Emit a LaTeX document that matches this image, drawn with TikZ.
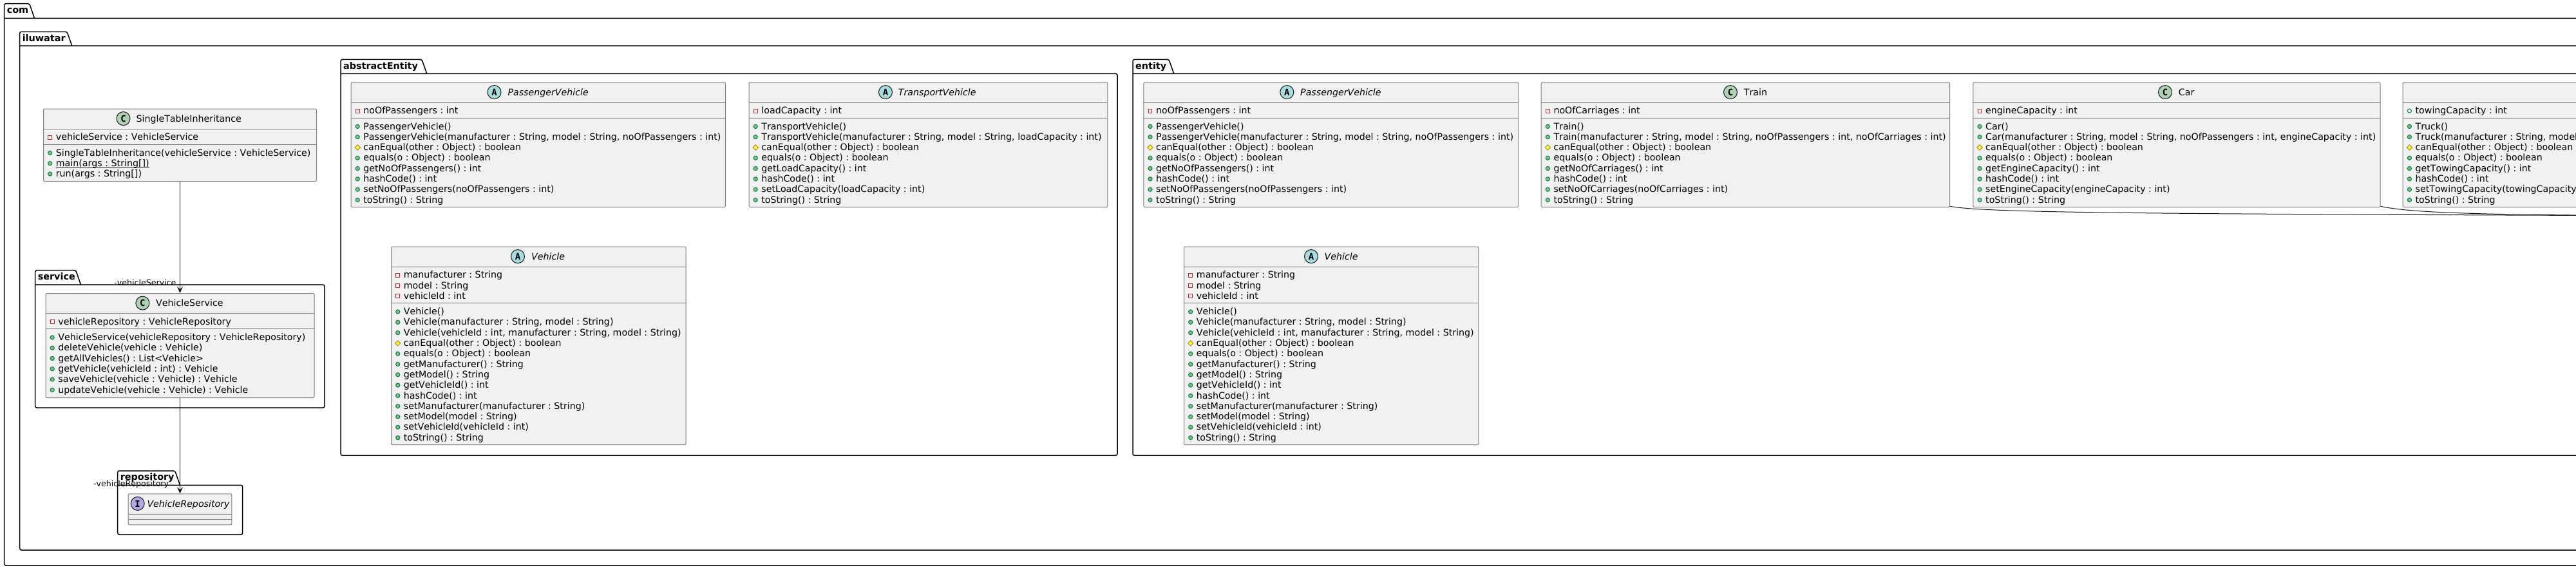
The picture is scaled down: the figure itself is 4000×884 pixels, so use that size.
\documentclass[tikz,border=0pt]{standalone}
\usepackage{fontspec}
\setmainfont[Kerning=Off]{DejaVu Sans}
\setmonofont{DejaVu Sans Mono}
\usepackage{tikz}
\usetikzlibrary{arrows.meta,shapes.geometric}

\definecolor{boxfill}{HTML}{F1F1F1}
\definecolor{boxline}{HTML}{7F7F7F}
\definecolor{inkline}{HTML}{181818}

\frenchspacing

\tikzset{
  pkg/.style={draw=black,line width=1.5pt,rounded corners=2.5pt,fill=white},
  pkgtitle/.style={anchor=base west,inner sep=0pt,font=\fontsize{14.4}{16}\selectfont\bfseries},
  classbox/.style={draw=boxline,line width=1pt,fill=boxfill,rounded corners=2pt,inner sep=0pt,anchor=north west},
  classline/.style={draw=boxline,line width=1pt},
  row/.style={anchor=base west,inner sep=0pt,font=\fontsize{14.2}{16}\selectfont},
  icon/.style={circle,draw=inkline,line width=1pt,minimum size=21pt,inner sep=0pt,
    font=\fontsize{14}{14}\selectfont\ttfamily\bfseries},
  iconC/.style={icon,fill={rgb,255:red,173;green,209;blue,178}},
  iconA/.style={icon,fill={rgb,255:red,169;green,220;blue,223}},
  iconI/.style={icon,fill={rgb,255:red,180;green,167;blue,229}},
  pub/.style={circle,draw={rgb,255:red,3;green,128;blue,72},fill={rgb,255:red,132;green,190;blue,132},
    line width=1pt,minimum size=6.2pt,inner sep=0pt},
  pubfield/.style={circle,draw={rgb,255:red,3;green,128;blue,72},fill=boxfill,
    line width=1pt,minimum size=6.2pt,inner sep=0pt},
  priv/.style={rectangle,draw={rgb,255:red,200;green,41;blue,48},fill=boxfill,
    line width=1pt,minimum size=5.8pt,inner sep=0pt},
  prot/.style={diamond,aspect=1,draw={rgb,255:red,179;green,141;blue,34},fill={rgb,255:red,255;green,255;blue,68},
    line width=1pt,minimum size=8.6pt,inner sep=0pt},
  assoc/.style={draw=inkline,line width=1pt,-{Stealth[length=10pt,width=9pt,inset=4pt]}},
  rolelabel/.style={anchor=base east,inner sep=0pt,font=\fontsize{12.6}{14}\selectfont},
  inherit/.style={draw=inkline,line width=1pt}
}

\newcommand{\staticrow}[1]{\sbox0{#1}\rlap{\rule[-1.8pt]{\wd0}{0.9pt}}\usebox0}

% name, left, right, tab top, frame top, bottom, tab right, title
\newcommand{\umlpackage}[8]{
  \draw[pkg] (#2,#5) -- (#3,#5) -- (#3,#6) -- (#2,#6) -- (#2,#4) -- (#7,#4) -- ({#7+7.8},#5);
  \node[pkgtitle] (#1) at ({#2+3.9},{#4+14.7}) {#8};
}

% name, left, right, top, bottom, icon x, title x, letter, title
\newcommand{\umlclass}[9]{
  \def\clsname{#1}\def\clsleft{#2}\def\clsright{#3}\def\clstop{#4}
  \pgfmathsetmacro\clswidth{#3-(#2)}
  \pgfmathsetmacro\clsheight{#5-(#4)}
  \node[classbox,minimum width=\clswidth pt,minimum height=\clsheight pt] (#1) at (#2,#4) {};
  \draw[classline] (#2,{#4+31.8}) -- (#3,{#4+31.8});
  \node[icon#8] (#1-icon) at (#6,{#4+15.6}) {#8};
  \node[row] (#1-title) at (#7,{#4+20.8}) {#9};
}

% number of attributes, attributes, methods
\newcommand{\umlrows}[3]{
  \pgfmathsetmacro\clssep{\clstop+39.5+#1*16.3}
  \draw[classline] (\clsleft,\clssep) -- (\clsright,\clssep);
  \foreach \vis/\txt [count=\i] in {#2} {
    \pgfmathsetmacro\rowy{\clstop+49.2+(\i-1)*16.3}
    \node[\vis] (\clsname-av\i) at ({\clsleft+10.7},{\rowy-4.6}) {};
    \node[row] (\clsname-a\i) at ({\clsleft+19.7},\rowy) {\txt};
  }
  \foreach \vis/\txt [count=\i] in {#3} {
    \pgfmathsetmacro\rowy{\clssep+17.7+(\i-1)*16.3}
    \node[\vis] (\clsname-mv\i) at ({\clsleft+10.7},{\rowy-4.6}) {};
    \node[row] (\clsname-m\i) at ({\clsleft+19.7},\rowy) {\txt};
  }
}

\newcommand{\passengerrows}{
  \umlrows{1}{priv/{noOfPassengers : int}}{
    pub/{PassengerVehicle()},
    pub/{PassengerVehicle(manufacturer : String, model : String, noOfPassengers : int)},
    prot/{canEqual(other : Object) : boolean},
    pub/{equals(o : Object) : boolean},
    pub/{getNoOfPassengers() : int},
    pub/{hashCode() : int},
    pub/{setNoOfPassengers(noOfPassengers : int)},
    pub/{toString() : String}}
}

\newcommand{\vehiclerows}{
  \umlrows{3}{priv/{manufacturer : String},priv/{model : String},priv/{vehicleId : int}}{
    pub/{Vehicle()},
    pub/{Vehicle(manufacturer : String, model : String)},
    pub/{Vehicle(vehicleId : int, manufacturer : String, model : String)},
    prot/{canEqual(other : Object) : boolean},
    pub/{equals(o : Object) : boolean},
    pub/{getManufacturer() : String},
    pub/{getModel() : String},
    pub/{getVehicleId() : int},
    pub/{hashCode() : int},
    pub/{setManufacturer(manufacturer : String)},
    pub/{setModel(model : String)},
    pub/{setVehicleId(vehicleId : int)},
    pub/{toString() : String}}
}

\begin{document}
\begin{tikzpicture}[x=1pt,y=-1pt]
  \useasboundingbox (0,0) rectangle (4000,884);
  \clip (0,0) rectangle (4000,884);

  \umlpackage{com}{6.7}{4100}{5.7}{28.3}{878}{45.7}{com}
  \umlpackage{iluwatar}{30.7}{4100}{49.3}{71}{854}{104}{iluwatar}
  \umlpackage{abstractEntity}{529}{1735}{92.4}{114.4}{707}{655}{abstractEntity}
  \umlpackage{entity}{1759}{4100}{92.4}{114.4}{707}{1815}{entity}
  \umlpackage{service}{54.7}{504}{419.7}{442}{633}{117.7}{service}
  \umlpackage{repository}{182.7}{376.7}{731}{753.3}{830}{271.7}{repository}

  \umlclass{singletable}{67}{491}{168.5}{281}{191.5}{211.4}{C}{SingleTableInheritance}
  \umlrows{1}{priv/{vehicleService : VehicleService}}{
    pub/{SingleTableInheritance(vehicleService : VehicleService)},
    pub/{\staticrow{main(args : String[])}},
    pub/{run(args : String[])}}

  \umlclass{vehicleservice}{70.5}{487.5}{455}{617}{221.4}{242}{C}{VehicleService}
  \umlrows{1}{priv/{vehicleRepository : VehicleRepository}}{
    pub/{VehicleService(vehicleRepository : VehicleRepository)},
    pub/{deleteVehicle(vehicle : Vehicle)},
    pub/{getAllVehicles() : List<Vehicle>},
    pub/{getVehicle(vehicleId : int) : Vehicle},
    pub/{saveVehicle(vehicle : Vehicle) : Vehicle},
    pub/{updateVehicle(vehicle : Vehicle) : Vehicle}}

  \umlclass{vehiclerepository}{198.7}{359.3}{766.3}{814.3}{213.7}{228.3}{I}{\itshape VehicleRepository}
  \draw[classline] (198.7,806.3) -- (359.3,806.3);

  \umlclass{abspassenger}{544.5}{1126}{127.5}{321}{767.5}{788.3}{A}{\itshape PassengerVehicle}
  \passengerrows

  \umlclass{abstransport}{1162.5}{1719.3}{127.5}{321}{1375}{1394.7}{A}{\itshape TransportVehicle}
  \umlrows{1}{priv/{loadCapacity : int}}{
    pub/{TransportVehicle()},
    pub/{TransportVehicle(manufacturer : String, model : String, loadCapacity : int)},
    prot/{canEqual(other : Object) : boolean},
    pub/{equals(o : Object) : boolean},
    pub/{getLoadCapacity() : int},
    pub/{hashCode() : int},
    pub/{setLoadCapacity(loadCapacity : int)},
    pub/{toString() : String}}

  \umlclass{absvehicle}{607}{1064.6}{382.5}{690}{804}{825}{A}{\itshape Vehicle}
  \vehiclerows

  \umlclass{passenger}{1775.3}{2357.3}{127.5}{321}{1998.3}{2019}{A}{\itshape PassengerVehicle}
  \passengerrows

  \umlclass{train}{2392.6}{3027}{127.5}{321}{2687}{2707.7}{C}{Train}
  \umlrows{1}{priv/{noOfCarriages : int}}{
    pub/{Train()},
    pub/{Train(manufacturer : String, model : String, noOfPassengers : int, noOfCarriages : int)},
    prot/{canEqual(other : Object) : boolean},
    pub/{equals(o : Object) : boolean},
    pub/{getNoOfCarriages() : int},
    pub/{hashCode() : int},
    pub/{setNoOfCarriages(noOfCarriages : int)},
    pub/{toString() : String}}

  \umlclass{car}{3063.3}{3695.5}{127.5}{321}{3362}{3382.7}{C}{Car}
  \umlrows{1}{priv/{engineCapacity : int}}{
    pub/{Car()},
    pub/{Car(manufacturer : String, model : String, noOfPassengers : int, engineCapacity : int)},
    prot/{canEqual(other : Object) : boolean},
    pub/{equals(o : Object) : boolean},
    pub/{getEngineCapacity() : int},
    pub/{hashCode() : int},
    pub/{setEngineCapacity(engineCapacity : int)},
    pub/{toString() : String}}

  \umlclass{vehicle}{1838}{2295.3}{382.5}{690}{2036}{2056.5}{A}{\itshape Vehicle}
  \vehiclerows

  \node[classbox,minimum width=400pt,minimum height=193.5pt] (truck) at (3730.7,127.5) {};
  \draw[classline] (3730.7,159.3) -- (4100,159.3);
  \def\clsname{truck}\def\clsleft{3730.7}\def\clsright{4100}\def\clstop{127.5}
  \umlrows{1}{pubfield/{towingCapacity : int}}{
    pub/{Truck()},
    pub/{Truck(manufacturer : String, model},
    prot/{canEqual(other : Object) : boolean},
    pub/{equals(o : Object) : boolean},
    pub/{getTowingCapacity() : int},
    pub/{hashCode() : int},
    pub/{setTowingCapacity(towingCapacity},
    pub/{toString() : String}}

  \coordinate (target) at (4060,334.6);
  \draw[assoc] (singletable.south) -- (vehicleservice.north);
  \draw[assoc] (vehicleservice.south) -- (vehiclerepository.north);
  \node[rolelabel] (servicerole) at (273.6,443.3) {-vehicleService};
  \node[rolelabel] (repositoryrole) at (262.3,755) {-vehicleRepository};
  \draw[inherit] ([yshift=1.7pt]train.south east) .. controls (3080,330) and (3300,332) .. (target);
  \draw[inherit] ([yshift=1.7pt]car.south east) .. controls (3740,330) and (3840,333) .. (target);
\end{tikzpicture}
\end{document}
